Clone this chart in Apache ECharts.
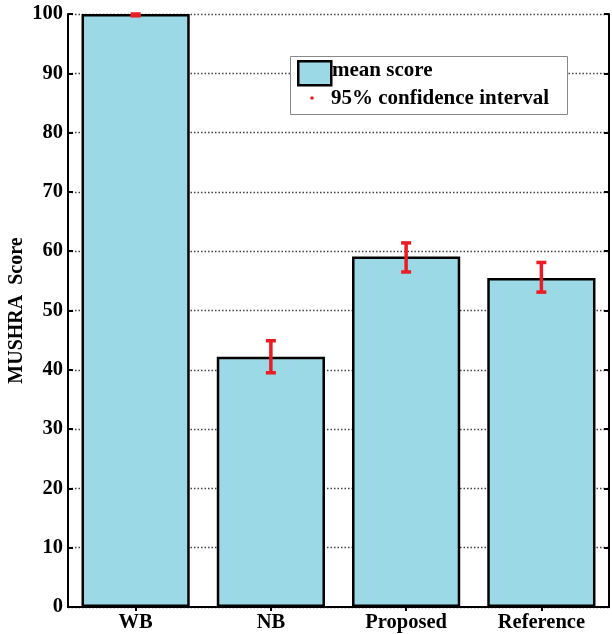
<!DOCTYPE html>
<html><head><meta charset="utf-8">
<script src="https://cdn.jsdelivr.net/npm/echarts@6/dist/echarts.min.js"></script>
<style>html,body{margin:0;padding:0;background:#fff}#c{width:612px;height:634px}</style>
</head><body><div id="c"></div>
<script>
var categories = ['WB', 'NB', 'Proposed', 'Reference'];
var meanScores = [100, 42.2, 59.1, 55.5];
var ciLow = [99.7, 39.5, 56.5, 53.1];
var ciHigh = [100, 44.9, 61.4, 58.1];
var yTicks = [0, 10, 20, 30, 40, 50, 60, 70, 80, 90, 100];

var font = 'Liberation Serif';
var chart = echarts.init(document.getElementById('c'), null, {renderer: 'canvas'});
var errData = categories.map(function (c, i) { return [i, ciLow[i], ciHigh[i]]; });

chart.setOption({
  animation: false,
  grid: {left: 68, right: 3, top: 14, bottom: 27, containLabel: false, outerBoundsMode: 'none'},
  xAxis: [{
    type: 'category', data: categories, position: 'bottom',
    axisLine: {show: true, lineStyle: {color: '#000', width: 2}},
    axisTick: {show: false},
    axisLabel: {fontFamily: font, fontWeight: 'bold', fontSize: 20.5, color: '#000', margin: 5}
  }, {
    type: 'category', data: categories, position: 'top',
    axisLine: {show: true, lineStyle: {color: '#000', width: 2}},
    axisTick: {show: true, inside: true, alignWithLabel: true, length: 4, lineStyle: {color: '#000', width: 2}},
    axisLabel: {show: false}
  }],
  yAxis: [{
    type: 'value', min: 0, max: 100, interval: 10, position: 'left',
    name: 'MUSHRA  Score', nameLocation: 'middle', nameGap: 41, nameMoveOverlap: false,
    nameTextStyle: {fontFamily: font, fontWeight: 'bold', fontSize: 20, color: '#000'},
    axisLine: {show: true, lineStyle: {color: '#000', width: 2}},
    axisTick: {show: true, inside: true, length: 5, lineStyle: {color: '#000', width: 2}},
    axisLabel: {fontFamily: font, fontWeight: 'bold', fontSize: 20.5, color: '#000', margin: 5,
      formatter: function (v) { return yTicks.indexOf(v) >= 0 ? String(v) : ''; }},
    splitLine: {show: true, lineStyle: {color: '#444', type: [1.5, 2], width: 1.3}}
  }, {
    type: 'value', min: 0, max: 100, interval: 10, position: 'right',
    axisLine: {show: true, lineStyle: {color: '#000', width: 2}},
    axisTick: {show: true, inside: true, length: 5, lineStyle: {color: '#000', width: 2}},
    axisLabel: {show: false},
    splitLine: {show: false}
  }],
  series: [{
    name: 'mean score', type: 'bar', data: meanScores, barCategoryGap: '20%',
    itemStyle: {color: '#9AD9E5', borderColor: '#000', borderWidth: 2.5},
    z: 2
  }, {
    name: '95% confidence interval', type: 'custom', data: errData, z: 5,
    renderItem: function (params, api) {
      var x = api.value(0);
      var lo = api.coord([x, api.value(1)]);
      var hi = api.coord([x, api.value(2)]);
      var cap = 5;
      var style = {stroke: '#EC1C24', lineWidth: 3.5, fill: null};
      return {type: 'group', children: [
        {type: 'line', shape: {x1: lo[0], y1: lo[1], x2: hi[0], y2: hi[1]}, style: style},
        {type: 'line', shape: {x1: lo[0] - cap, y1: lo[1], x2: lo[0] + cap, y2: lo[1]}, style: style},
        {type: 'line', shape: {x1: hi[0] - cap, y1: hi[1], x2: hi[0] + cap, y2: hi[1]}, style: style}
      ]};
    }
  }],
  graphic: [
    {type: 'rect', left: 290, top: 56, shape: {width: 277, height: 58}, style: {fill: '#fff', stroke: '#888', lineWidth: 1}, z: 10},
    {type: 'rect', left: 297, top: 60, shape: {width: 33, height: 24}, style: {fill: '#9AD9E5', stroke: '#000', lineWidth: 2.5}, z: 11},
    {type: 'text', left: 332, top: 60, style: {text: 'mean score', font: 'bold 21px "Liberation Serif"', fill: '#000'}, z: 11},
    {type: 'circle', shape: {cx: 312, cy: 98, r: 1.8}, style: {fill: '#EC1C24'}, z: 11},
    {type: 'text', left: 331, top: 88, style: {text: '95% confidence interval', font: 'bold 21px "Liberation Serif"', fill: '#000'}, z: 11}
  ]
});
</script></body></html>
